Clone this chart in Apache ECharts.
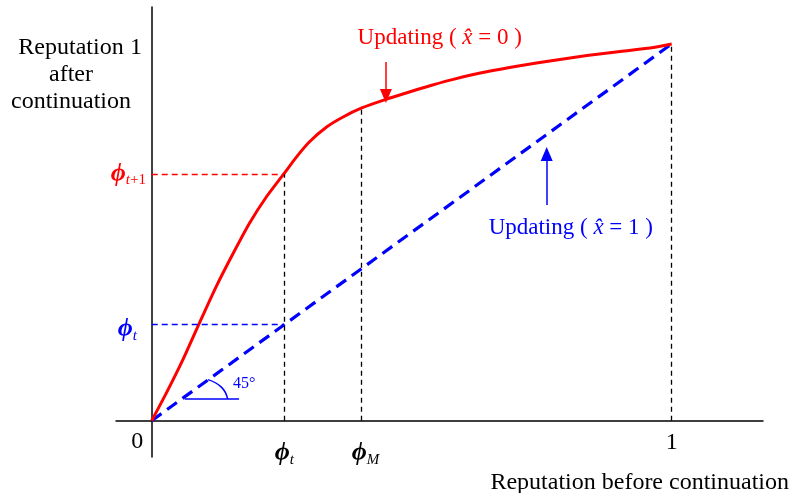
<!DOCTYPE html>
<html>
<head>
<meta charset="utf-8">
<script src="https://cdn.jsdelivr.net/npm/echarts@6/dist/echarts.min.js"></script>
<style>
  html, body { margin: 0; padding: 0; background: #fff; }
  #main { width: 790px; height: 493px; }
</style>
</head>
<body>
<div id="main"></div>
<script>
// red curve: updating with x-hat = 0
var redX = [0, 0.028, 0.060, 0.091, 0.124, 0.157, 0.188, 0.221, 0.254, 0.279, 0.304, 0.337, 0.368, 0.404, 0.449, 0.497, 0.540, 0.580, 0.644, 0.708, 0.772, 0.837, 0.901, 0.965, 1.0];
var redY = [0, 0.073, 0.162, 0.257, 0.356, 0.445, 0.524, 0.595, 0.655, 0.701, 0.741, 0.780, 0.806, 0.830, 0.852, 0.873, 0.891, 0.906, 0.926, 0.942, 0.956, 0.969, 0.980, 0.9905, 1.0];
// blue 45 degree line: updating with x-hat = 1
var blueX = [0, 1];
var blueY = [0, 1];
// marked points
var phiT = 0.255;      // phi_t
var phiNext = 0.655;   // phi_{t+1}
var phiM = 0.403;      // phi_M
var phiMY = 0.830;     // curve value at phi_M
// little 45 degree arc
var arcX = [0.108, 0.134, 0.146];
var arcY = [0.109, 0.089, 0.058];

var serif = '"Liberation Serif", "Times New Roman", "DejaVu Serif", serif';
var phiRich = function (color) {
    return {
        p: { fontFamily: serif, fontSize: 26, fontWeight: 'bold', fontStyle: 'italic', color: color, lineHeight: 28 },
        s: { fontFamily: serif, fontSize: 15, fontStyle: 'italic', color: color, lineHeight: 16, verticalAlign: 'bottom' },
        u: { fontFamily: serif, fontSize: 15, color: color, lineHeight: 16, verticalAlign: 'bottom' }
    };
};
function pairs(xs, ys) {
    return xs.map(function (x, i) { return [x, ys[i]]; });
}
function textItem(x, y, fmt, color, size, rich) {
    return {
        value: [x, y],
        label: {
            show: true, position: 'inside', formatter: fmt,
            fontFamily: serif, fontSize: size || 23, color: color || '#000',
            rich: rich || {}
        }
    };
}

var chart = echarts.init(document.getElementById('main'));
var option = {
    animation: false,
    grid: { left: 116, right: 27, top: 7, bottom: 36 },
    xAxis: {
        type: 'value', min: -0.0687, max: 1.1756,
        axisLine: { onZero: true, lineStyle: { color: '#000', width: 1.5 } },
        axisTick: { show: false }, axisLabel: { show: false }, splitLine: { show: false }
    },
    yAxis: {
        type: 'value', min: -0.0964, max: 1.098,
        axisLine: { onZero: true, lineStyle: { color: '#000', width: 1.5 } },
        axisTick: { show: false }, axisLabel: { show: false }, splitLine: { show: false }
    },
    graphic: [
        {
            type: 'text', x: 71, y: 75,
            style: {
                text: 'Reputation\nafter\ncontinuation', fontFamily: serif, fontSize: 24,
                lineHeight: 27, fill: '#000', align: 'center', verticalAlign: 'middle'
            }
        },
        {
            type: 'text', x: 789, y: 483,
            style: {
                text: 'Reputation before continuation', fontFamily: serif, fontSize: 24,
                fill: '#000', align: 'right', verticalAlign: 'middle'
            }
        }
    ],
    series: [
        {
            type: 'line', name: 'guides black', data: [], symbol: 'none',
            markLine: {
                silent: true, symbol: 'none', label: { show: false },
                lineStyle: { color: '#000', type: [5, 4], width: 1.3 },
                data: [
                    [{ coord: [phiT, 0] }, { coord: [phiT, phiNext] }],
                    [{ coord: [phiM, 0] }, { coord: [phiM, phiMY] }],
                    [{ coord: [1, 0] }, { coord: [1, 1] }]
                ]
            }
        },
        {
            type: 'line', name: 'guide red', data: [], symbol: 'none',
            markLine: {
                silent: true, symbol: 'none', label: { show: false },
                lineStyle: { color: '#ff0000', type: [6, 4], width: 1.3 },
                data: [[{ coord: [0, phiNext] }, { coord: [phiT, phiNext] }]]
            }
        },
        {
            type: 'line', name: 'guide blue', data: [], symbol: 'none',
            markLine: {
                silent: true, symbol: 'none', label: { show: false },
                lineStyle: { color: '#0000ff', type: [6, 4], width: 1.3 },
                data: [[{ coord: [0, phiT] }, { coord: [phiT, phiT] }]]
            }
        },
        {
            type: 'line', name: 'angle base', data: [], symbol: 'none',
            markLine: {
                silent: true, symbol: 'none', label: { show: false },
                lineStyle: { color: '#0000ff', type: 'solid', width: 1.5 },
                data: [[{ coord: [0.0635, 0.0576] }, { coord: [0.168, 0.0576] }]]
            }
        },
        {
            type: 'line', name: 'arc', smooth: true, symbol: 'none',
            data: pairs(arcX, arcY),
            lineStyle: { color: '#0000ff', width: 1.5 }
        },
        {
            type: 'line', name: 'Updating (x=1)', symbol: 'none',
            data: pairs(blueX, blueY),
            lineStyle: { color: '#0000ff', width: 3.2, type: [12, 7] }
        },
        {
            type: 'line', name: 'Updating (x=0)', smooth: 0.25, symbol: 'none',
            data: pairs(redX, redY),
            lineStyle: { color: '#ff0000', width: 3 }
        },
        {
            type: 'line', name: 'arrow red', data: [], symbol: 'none',
            markLine: {
                silent: true, symbol: ['none', 'triangle'], symbolSize: [12, 14], label: { show: false },
                lineStyle: { color: '#ff0000', type: 'solid', width: 1.5 },
                data: [[{ coord: [0.4504, 0.952] }, { coord: [0.4504, 0.862] }]]
            }
        },
        {
            type: 'line', name: 'arrow blue', data: [], symbol: 'none',
            markLine: {
                silent: true, symbol: ['none', 'triangle'], symbolSize: [12, 14], label: { show: false },
                lineStyle: { color: '#0000ff', type: 'solid', width: 1.5 },
                data: [[{ coord: [0.7596, 0.5726] }, { coord: [0.7596, 0.708] }]]
            }
        },
        {
            type: 'scatter', name: 'labels', symbolSize: 0, clip: false, silent: true,
            itemStyle: { opacity: 1 },
            data: [
                textItem(-0.028, -0.056, '0', '#000', 24),
                textItem(1.0, -0.058, '1', '#000', 24),
                textItem(-0.030, 0.989, '1', '#000', 24),
                textItem(phiT, -0.086, '{p|ϕ}{s|t}', '#000', 23, phiRich('#000')),
                textItem(phiM + 0.008, -0.086, '{p|ϕ}{s|M}', '#000', 23, phiRich('#000')),
                textItem(-0.045, phiNext, '{p|ϕ}{s|t}{u|+1}', '#ff0000', 23, phiRich('#ff0000')),
                textItem(-0.047, 0.243, '{p|ϕ}{s|t}', '#0000ff', 23, phiRich('#0000ff')),
                textItem(0.554, 1.016, 'Updating ( {i|x̂} = 0 )', '#ff0000', 23,
                    { i: { fontFamily: serif, fontSize: 23, fontStyle: 'italic', color: '#ff0000' } }),
                textItem(0.806, 0.512, 'Updating ( {i|x̂} = 1 )', '#0000ff', 23,
                    { i: { fontFamily: serif, fontSize: 23, fontStyle: 'italic', color: '#0000ff' } }),
                textItem(0.178, 0.0966, '45°', '#0000ff', 16)
            ]
        }
    ]
};
chart.setOption(option);
</script>
</body>
</html>
